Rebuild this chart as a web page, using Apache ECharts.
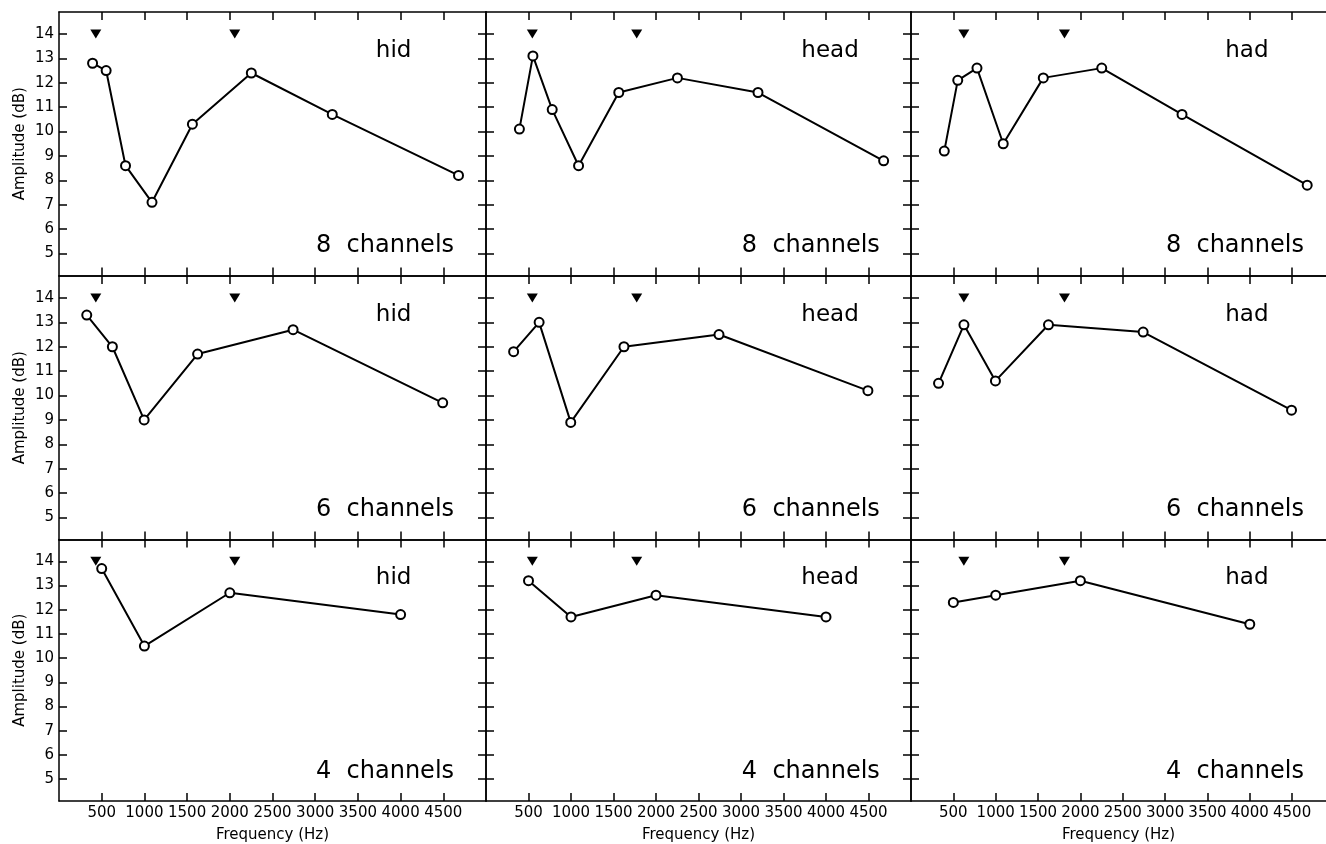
<!DOCTYPE html>
<html>
<head>
<meta charset="utf-8">
<script src="https://cdn.jsdelivr.net/npm/echarts@6/dist/echarts.min.js"></script>
<style>
html,body{margin:0;padding:0;background:#fff;}
#chart{width:1326px;height:844px;}
</style>
</head>
<body>
<div id="chart"></div>
<script>
// ---- data ----
const vowels = ['hid', 'head', 'had'];
const channelLabels = ['8  channels', '6  channels', '4  channels'];
const freq8 = [393, 552, 779, 1089, 1562, 2252, 3200, 4678];
const freq6 = [325, 625, 997, 1623, 2741, 4493];
const freq4 = [500, 1000, 2000, 4000];
const hid8  = [12.8, 12.5, 8.6, 7.1, 10.3, 12.4, 10.7, 8.2];
const head8 = [10.1, 13.1, 10.9, 8.6, 11.6, 12.2, 11.6, 8.8];
const had8  = [9.2, 12.1, 12.6, 9.5, 12.2, 12.6, 10.7, 7.8];
const hid6  = [13.3, 12.0, 9.0, 11.7, 12.7, 9.7];
const head6 = [11.8, 13.0, 8.9, 12.0, 12.5, 10.2];
const had6  = [10.5, 12.9, 10.6, 12.9, 12.6, 9.4];
const hid4  = [13.7, 10.5, 12.7, 11.8];
const head4 = [13.2, 11.7, 12.6, 11.7];
const had4  = [12.3, 12.6, 13.2, 11.4];
const formantsHid  = [431, 2058];
const formantsHead = [545, 1773];
const formantsHad  = [624, 1812];
const formantLevel = 14;
const xTicks = [500, 1000, 1500, 2000, 2500, 3000, 3500, 4000, 4500];
const yTicks = [5, 6, 7, 8, 9, 10, 11, 12, 13, 14];
const xMaxByCol = [5000, 5000, 4900];
const vowelLabelPos = [3710, 13.3];
const channelLabelPos = [3010, 5.3];

// ---- layout ----
const rowsFreq = [freq8, freq6, freq4];
const rowsVals = [[hid8, head8, had8], [hid6, head6, had6], [hid4, head4, had4]];
const formants = [formantsHid, formantsHead, formantsHad];
const colLeft = [59, 486, 911];
const colWidth = [427, 425, 415];
const rowTop = [12, 276, 539.5];
const rowHeight = 263.5;
const FONT = 'DejaVu Sans';
const axisLineStyle = {color: '#000', width: 1.5};
const plain = function (v) { return String(v); };

const grids = [], xAxes = [], yAxes = [], series = [];
for (let r = 0; r < 3; r++) {
  for (let c = 0; c < 3; c++) {
    const gi = grids.length;
    grids.push({left: colLeft[c], top: rowTop[r], width: colWidth[c], height: rowHeight, containLabel: false});
    ['bottom', 'top'].forEach(function (pos) {
      const showLab = (pos === 'bottom' && r === 2);
      xAxes.push({
        gridIndex: gi, type: 'value', position: pos, min: 0, max: xMaxByCol[c],
        axisLine: {show: true, onZero: false, lineStyle: axisLineStyle},
        axisTick: {show: true, inside: true, length: 8, customValues: xTicks, lineStyle: {color: '#000', width: 1.5}},
        axisLabel: {show: showLab, customValues: xTicks, formatter: plain, fontFamily: FONT, fontSize: 15, color: '#000', margin: 5},
        splitLine: {show: false},
        name: showLab ? 'Frequency (Hz)' : '', nameLocation: 'middle', nameGap: 27,
        nameTextStyle: {fontFamily: FONT, fontSize: 15, color: '#000'}
      });
    });
    ['left', 'right'].forEach(function (pos) {
      const showLab = (pos === 'left' && c === 0);
      const lastCol = (pos === 'right' && c === 2);
      yAxes.push({
        gridIndex: gi, type: 'value', position: pos, min: 4.1, max: 14.9,
        axisLine: {show: !lastCol, onZero: false, lineStyle: axisLineStyle},
        axisTick: {show: !lastCol, inside: true, length: 8, customValues: yTicks, lineStyle: {color: '#000', width: 1.5}},
        axisLabel: {show: showLab, customValues: yTicks, formatter: plain, fontFamily: FONT, fontSize: 15, color: '#000', margin: 5},
        splitLine: {show: false},
        name: showLab ? 'Amplitude (dB)' : '', nameLocation: 'middle', nameGap: 31,
        nameTextStyle: {fontFamily: FONT, fontSize: 15, color: '#000'}
      });
    });
    const xi = gi * 2, yi = gi * 2;
    const fr = rowsFreq[r], vals = rowsVals[r][c];
    series.push({
      type: 'line', xAxisIndex: xi, yAxisIndex: yi, z: 5,
      data: fr.map(function (f, k) { return [f, vals[k]]; }),
      symbol: 'circle', symbolSize: 9, showSymbol: true,
      lineStyle: {color: '#000', width: 2},
      itemStyle: {color: '#fff', borderColor: '#000', borderWidth: 2, opacity: 1},
      emphasis: {disabled: true}
    });
    series.push({
      type: 'scatter', xAxisIndex: xi, yAxisIndex: yi, z: 3,
      data: formants[c].map(function (f) { return [f, formantLevel]; }),
      symbol: 'triangle', symbolRotate: 180, symbolSize: [11, 9],
      itemStyle: {color: '#000', opacity: 1},
      emphasis: {disabled: true}
    });
    series.push({
      type: 'scatter', xAxisIndex: xi, yAxisIndex: yi, z: 4,
      symbolSize: 0,
      itemStyle: {opacity: 1},
      emphasis: {disabled: true},
      data: [
        {value: vowelLabelPos, label: {formatter: vowels[c], fontSize: 23, color: '#000'}},
        {value: channelLabelPos, label: {formatter: channelLabels[r], fontSize: 24, color: '#000'}}
      ],
      label: {show: true, position: 'right', distance: 0, color: '#000', fontFamily: FONT, opacity: 1}
    });
  }
}

const chart = echarts.init(document.getElementById('chart'), null, {renderer: 'canvas'});
chart.setOption({
  animation: false,
  backgroundColor: '#fff',
  grid: grids, xAxis: xAxes, yAxis: yAxes, series: series
});
</script>
</body>
</html>
